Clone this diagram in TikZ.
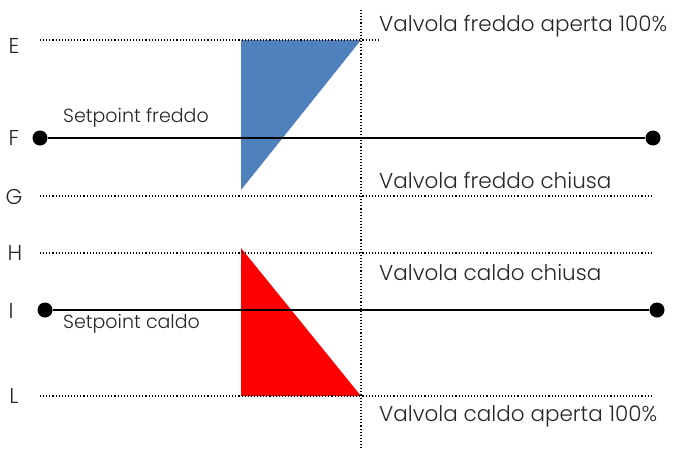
\documentclass[tikz,border=0pt]{standalone}
\usepackage{fontspec}
\setmainfont{Poppins}[UprightFont=* Light]
\usetikzlibrary{positioning}
\definecolor{freddo}{HTML}{4F81BD}
\definecolor{testo}{HTML}{262626}
\tikzset{
  dot/.style={circle, fill=black, minimum size=15pt, inner sep=0pt},
  level/.style={dotted, line width=1.1pt},
  setline/.style={line width=2.6pt},
  lab/.style={inner sep=0pt, text=testo, font=\fontsize{21.5}{24}\selectfont},
  small/.style={inner sep=0pt, text=testo, font=\fontsize{19}{22}\selectfont},
}
\begin{document}
\begin{tikzpicture}[x=1pt, y=-1pt]
  \useasboundingbox (0,0) rectangle (676,448);

  % lettere a sinistra
  \node[lab] (E) at (14,46) {E};
  \node[lab] (F) at (14,138) {F};
  \node[lab] (G) at (14,197) {G};
  \node[lab] (H) at (15,253) {H};
  \node[lab] (I) at (11,311) {I};
  \node[lab] (L) at (14,396) {L};

  % triangoli
  \fill[freddo] (241,40) coordinate (b1) -- (361,40) coordinate (b2) -- (241,190) coordinate (b3) -- cycle;
  \fill[red] (241,248) coordinate (r1) -- (241,396) coordinate (r2) -- (361,396) coordinate (r3) -- cycle;

  % linee tratteggiate
  \coordinate (top) at (361,10);
  \coordinate (bottom) at (361,448);
  \draw[level] (top) -- (bottom);
  \coordinate (e0) at (40,40);
  \coordinate (e1) at (378,40);
  \draw[level] (e0) -- (e1);
  \coordinate (g0) at (40,196);
  \coordinate (g1) at (652,196);
  \draw[level] (g0) -- (g1);
  \coordinate (h0) at (40,253);
  \coordinate (h1) at (652,253);
  \draw[level] (h0) -- (h1);
  \coordinate (l0) at (40,396);
  \coordinate (l1) at (652,396);
  \draw[level] (l0) -- (l1);

  % setpoint
  \node[dot] (f0) at (40,138) {};
  \node[dot] (f1) at (653,138) {};
  \draw[setline] (f0) -- (f1);
  \node[dot] (i0) at (45,310) {};
  \node[dot] (i1) at (657,310) {};
  \draw[setline] (i0) -- (i1);

  \node[small, anchor=west] (sf) at (63,118) {Setpoint freddo};
  \node[small, anchor=west] (sc) at (63,324) {Setpoint caldo};

  % valvole
  \node[lab, anchor=west] (vfa) at (379,26) {Valvola freddo aperta 100\%};
  \node[lab, anchor=west] (vfc) at (379,180) {Valvola freddo chiusa};
  \node[lab, anchor=west] (vcc) at (379,273) {Valvola caldo chiusa};
  \node[lab, anchor=west] (vca) at (379,416) {Valvola caldo aperta 100\%};
\end{tikzpicture}
\end{document}
